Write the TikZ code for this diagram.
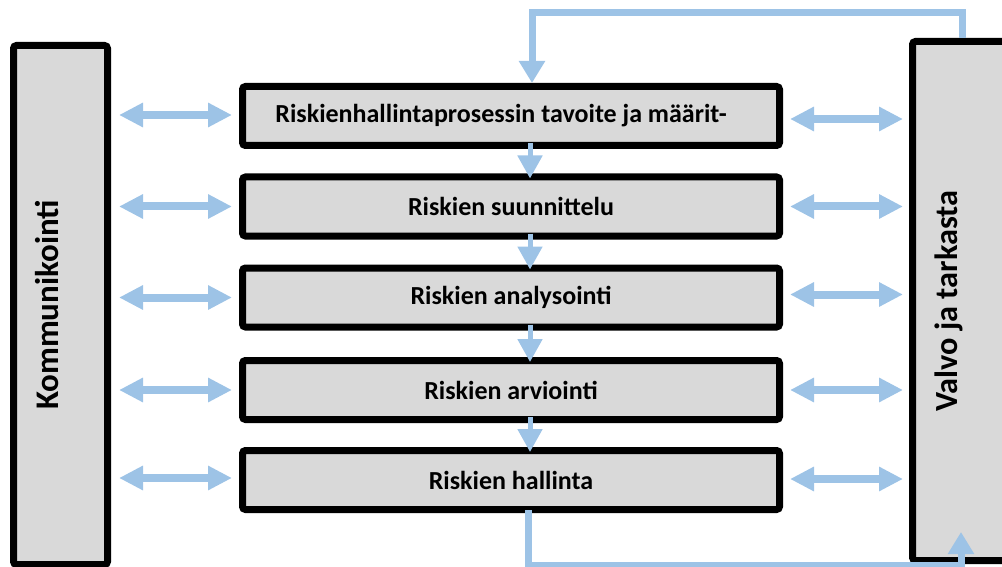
\documentclass[tikz,border=0pt]{standalone}
\usepackage{fontspec}
\setmainfont{Carlito}
\usetikzlibrary{arrows.meta}
\definecolor{arrowblue}{HTML}{9DC3E6}
\definecolor{boxgrey}{HTML}{D9D9D9}
\begin{document}
\begin{tikzpicture}[x=1pt,y=-1pt,
  pbox/.style={draw=black, fill=boxgrey, line width=7pt, rounded corners=3pt,
    minimum width=537pt, minimum height=59pt, inner sep=2pt,
    font=\fontsize{26}{30}\selectfont\bfseries},
  sidebox/.style={draw=black, fill=boxgrey, line width=7pt, rounded corners=3pt,
    rotate=90, minimum width=519pt, inner sep=2pt},
  dblarrow/.style={draw=arrowblue, line width=8pt,
    {Triangle[length=24pt,width=23pt]}-{Triangle[length=24pt,width=23pt]}},
  downarrow/.style={draw=arrowblue, line width=5pt, -{Triangle[length=23pt,width=24pt]}},
  looparrow/.style={draw=arrowblue, line width=7pt, -{Triangle[length=22pt,width=25pt]}}
]
\useasboundingbox (0,0) rectangle (1002,567);

% side boxes
\node[sidebox, minimum height=94pt, text height=21pt, text depth=26pt,
  font=\fontsize{33}{38}\selectfont\bfseries] (kom) at (60.5,305) {Kommunikointi};
\node[sidebox, minimum height=101pt, text height=20pt, text depth=32pt,
  font=\fontsize{32.3}{38}\selectfont\bfseries] (val) at (963,301) {Valvo ja tarkasta};

% process boxes
\node[pbox] (b1) at (511,116) {Riskienhallintaprosessin tavoite ja määrit-\hspace*{20pt}};
\node[pbox] (b2) at (511,206.5) {Riskien suunnittelu};
\node[pbox] (b3) at (511,297.5) {Riskien analysointi};
\node[pbox] (b4) at (511,390) {Riskien arviointi};
\node[pbox] (b5) at (511,480) {Riskien hallinta};

% double arrows
\foreach \b/\dl/\dr in {b1/1/-3, b2/0/0, b3/0/3, b4/0/0, b5/2/1}{
  \draw[dblarrow] ([xshift=8pt,yshift=\dl pt]kom.south |- \b.west) -- ([xshift=-7pt,yshift=\dl pt]\b.west);
  \draw[dblarrow] ([xshift=7pt,yshift=\dr pt]\b.east) -- ([xshift=-6pt,yshift=\dr pt]val.north |- \b.east);
}

% down arrows
\foreach \a/\c in {b1/b2, b2/b3, b3/b4, b4/b5}{
  \draw[downarrow] ([xshift=19pt,yshift=6pt]\a.south) -- ([xshift=19pt,yshift=-5pt]\c.north);
}

% top feedback loop
\coordinate (topR) at (962,13);
\draw[looparrow] (topR |- val.east) -- (topR) -| ([xshift=21pt]b1.north);

% bottom loop
\coordinate (botR) at (961,565);
\coordinate (valIn) at (961,532);
\draw[looparrow] ([xshift=17pt,yshift=3pt]b5.south) -- ([xshift=17pt]b5.south |- botR) -- (botR) -- (valIn);
\end{tikzpicture}
\end{document}
